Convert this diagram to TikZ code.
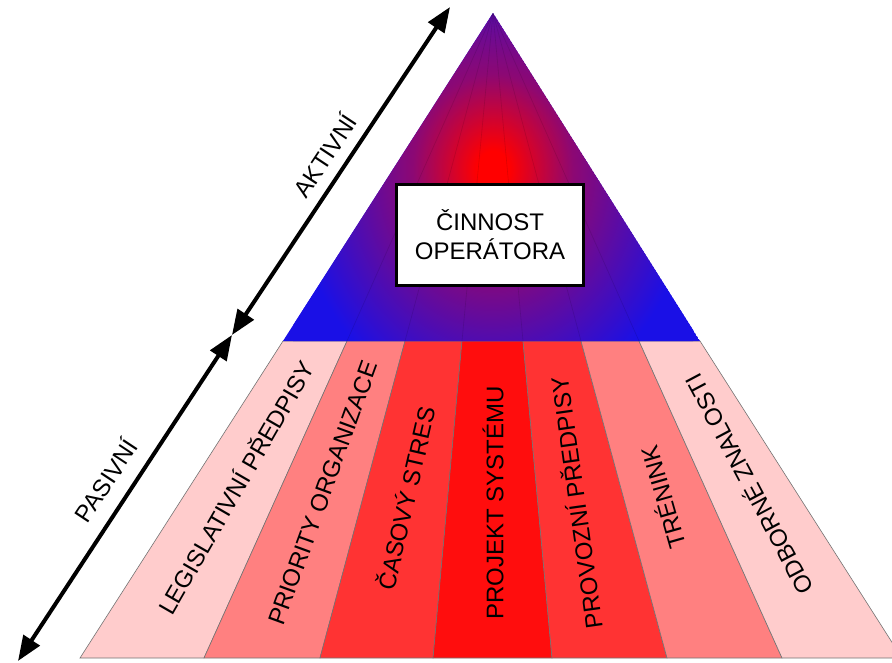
\documentclass[tikz,border=0pt]{standalone}
\usepackage{fontspec}
\setmainfont{Liberation Sans}
\usetikzlibrary{arrows.meta}

\definecolor{bandA}{HTML}{FFCCCC}
\definecolor{bandB}{HTML}{FF8080}
\definecolor{bandC}{HTML}{FF3333}
\definecolor{bandD}{HTML}{FF0D0D}
\definecolor{coreRed}{HTML}{FF0000}
\definecolor{rimBlue}{HTML}{1A10E6}

% red glow in the middle of the top triangle, fading out to blue
\pgfdeclareradialshading{pyrglow}{\pgfpoint{0bp}{0bp}}{%
  color(0bp)=(coreRed); color(2bp)=(coreRed);
  color(10bp)=(coreRed!50!rimBlue);
  color(25bp)=(rimBlue); color(50bp)=(rimBlue)}

\begin{document}
\begin{tikzpicture}[x=1pt,y=-1pt,
  band/.style={draw=black!55, line width=0.6pt},
  lbl/.style={font=\fontsize{24}{28}\selectfont, inner sep=0pt},
  axisarrow/.style={line width=4pt,
    {Triangle[length=25pt,width=19pt]}-{Triangle[length=25pt,width=19pt]}},
  titlebox/.style={draw, line width=3pt, fill=white, align=center,
    minimum width=187pt, minimum height=101pt, inner sep=0pt,
    font=\fontsize{24}{29}\selectfont},
]
\useasboundingbox (0,0) rectangle (892,662);
\clip (0,0) rectangle (892,662);

% pyramid apex, division points on the middle line and on the ground line
\coordinate (apex) at (493,13);
\coordinate (t0) at (283,341);
\coordinate (t1) at (347,341);
\coordinate (t2) at (405,341);
\coordinate (t3) at (462,341);
\coordinate (t4) at (523,341);
\coordinate (t5) at (581,341);
\coordinate (t6) at (639,341);
\coordinate (t7) at (700,341);
\coordinate (b0) at (80,658);
\coordinate (b1) at (204,658);
\coordinate (b2) at (320,658);
\coordinate (b3) at (433,658);
\coordinate (b4) at (552,658);
\coordinate (b5) at (667,658);
\coordinate (b6) at (782,658);
\coordinate (b7) at (902,658);

% lower bands
\filldraw[band, fill=bandA] (t0) -- (t1) -- (b1) -- (b0) -- cycle;
\filldraw[band, fill=bandB] (t1) -- (t2) -- (b2) -- (b1) -- cycle;
\filldraw[band, fill=bandC] (t2) -- (t3) -- (b3) -- (b2) -- cycle;
\filldraw[band, fill=bandD] (t3) -- (t4) -- (b4) -- (b3) -- cycle;
\filldraw[band, fill=bandC] (t4) -- (t5) -- (b5) -- (b4) -- cycle;
\filldraw[band, fill=bandB] (t5) -- (t6) -- (b6) -- (b5) -- cycle;
\filldraw[band, fill=bandA] (t6) -- (t7) -- (b7) -- (b6) -- cycle;

% upper triangle: blue, with a red core in the middle
\begin{scope}
  \clip (apex) -- (t0) -- (t7) -- cycle;
  \fill[rimBlue] (apex) -- (t0) -- (t7) -- cycle;
  \shade[shading=pyrglow] (293,-70) rectangle (693,410);
  \foreach \p in {t1,t2,t3,t4,t5,t6}
    \draw[black, opacity=0.12, line width=0.6pt] (apex) -- (\p);
\end{scope}

% band captions
\node[lbl, rotate=60]  (leg)  at (235,487) {LEGISLATIVNÍ PŘEDPISY};
\node[lbl, rotate=70]  (pri)  at (323,493) {PRIORITY ORGANIZACE};
\node[lbl, rotate=77]  (cas)  at (405,498) {ČASOVÝ STRES};
\node[lbl, rotate=90]  (proj) at (493,503) {PROJEKT SYSTÉMU};
\node[lbl, rotate=98]  (prov) at (575,503) {PROVOZNÍ PŘEDPISY};
\node[lbl, rotate=106] (tren) at (662,498) {TRÉNINK};
\node[lbl, rotate=118] (odb)  at (748,485) {ODBORNÉ ZNALOSTI};

% central box
\node[titlebox] (cinnost) at (490,235) {ČINNOST\\OPERÁTORA};

% side scale: active / passive
\coordinate (mid) at (232,335);
\coordinate (atop) at (450,7);
\coordinate (pbot) at (18,661);
\draw[axisarrow] (mid) -- (atop);
\draw[axisarrow] (pbot) -- (mid);
\node[lbl, rotate=56.5] (aktivni) at (324,155) {AKTIVNÍ};
\node[lbl, rotate=56.5] (pasivni) at (105,480) {PASIVNÍ};
\end{tikzpicture}
\end{document}
